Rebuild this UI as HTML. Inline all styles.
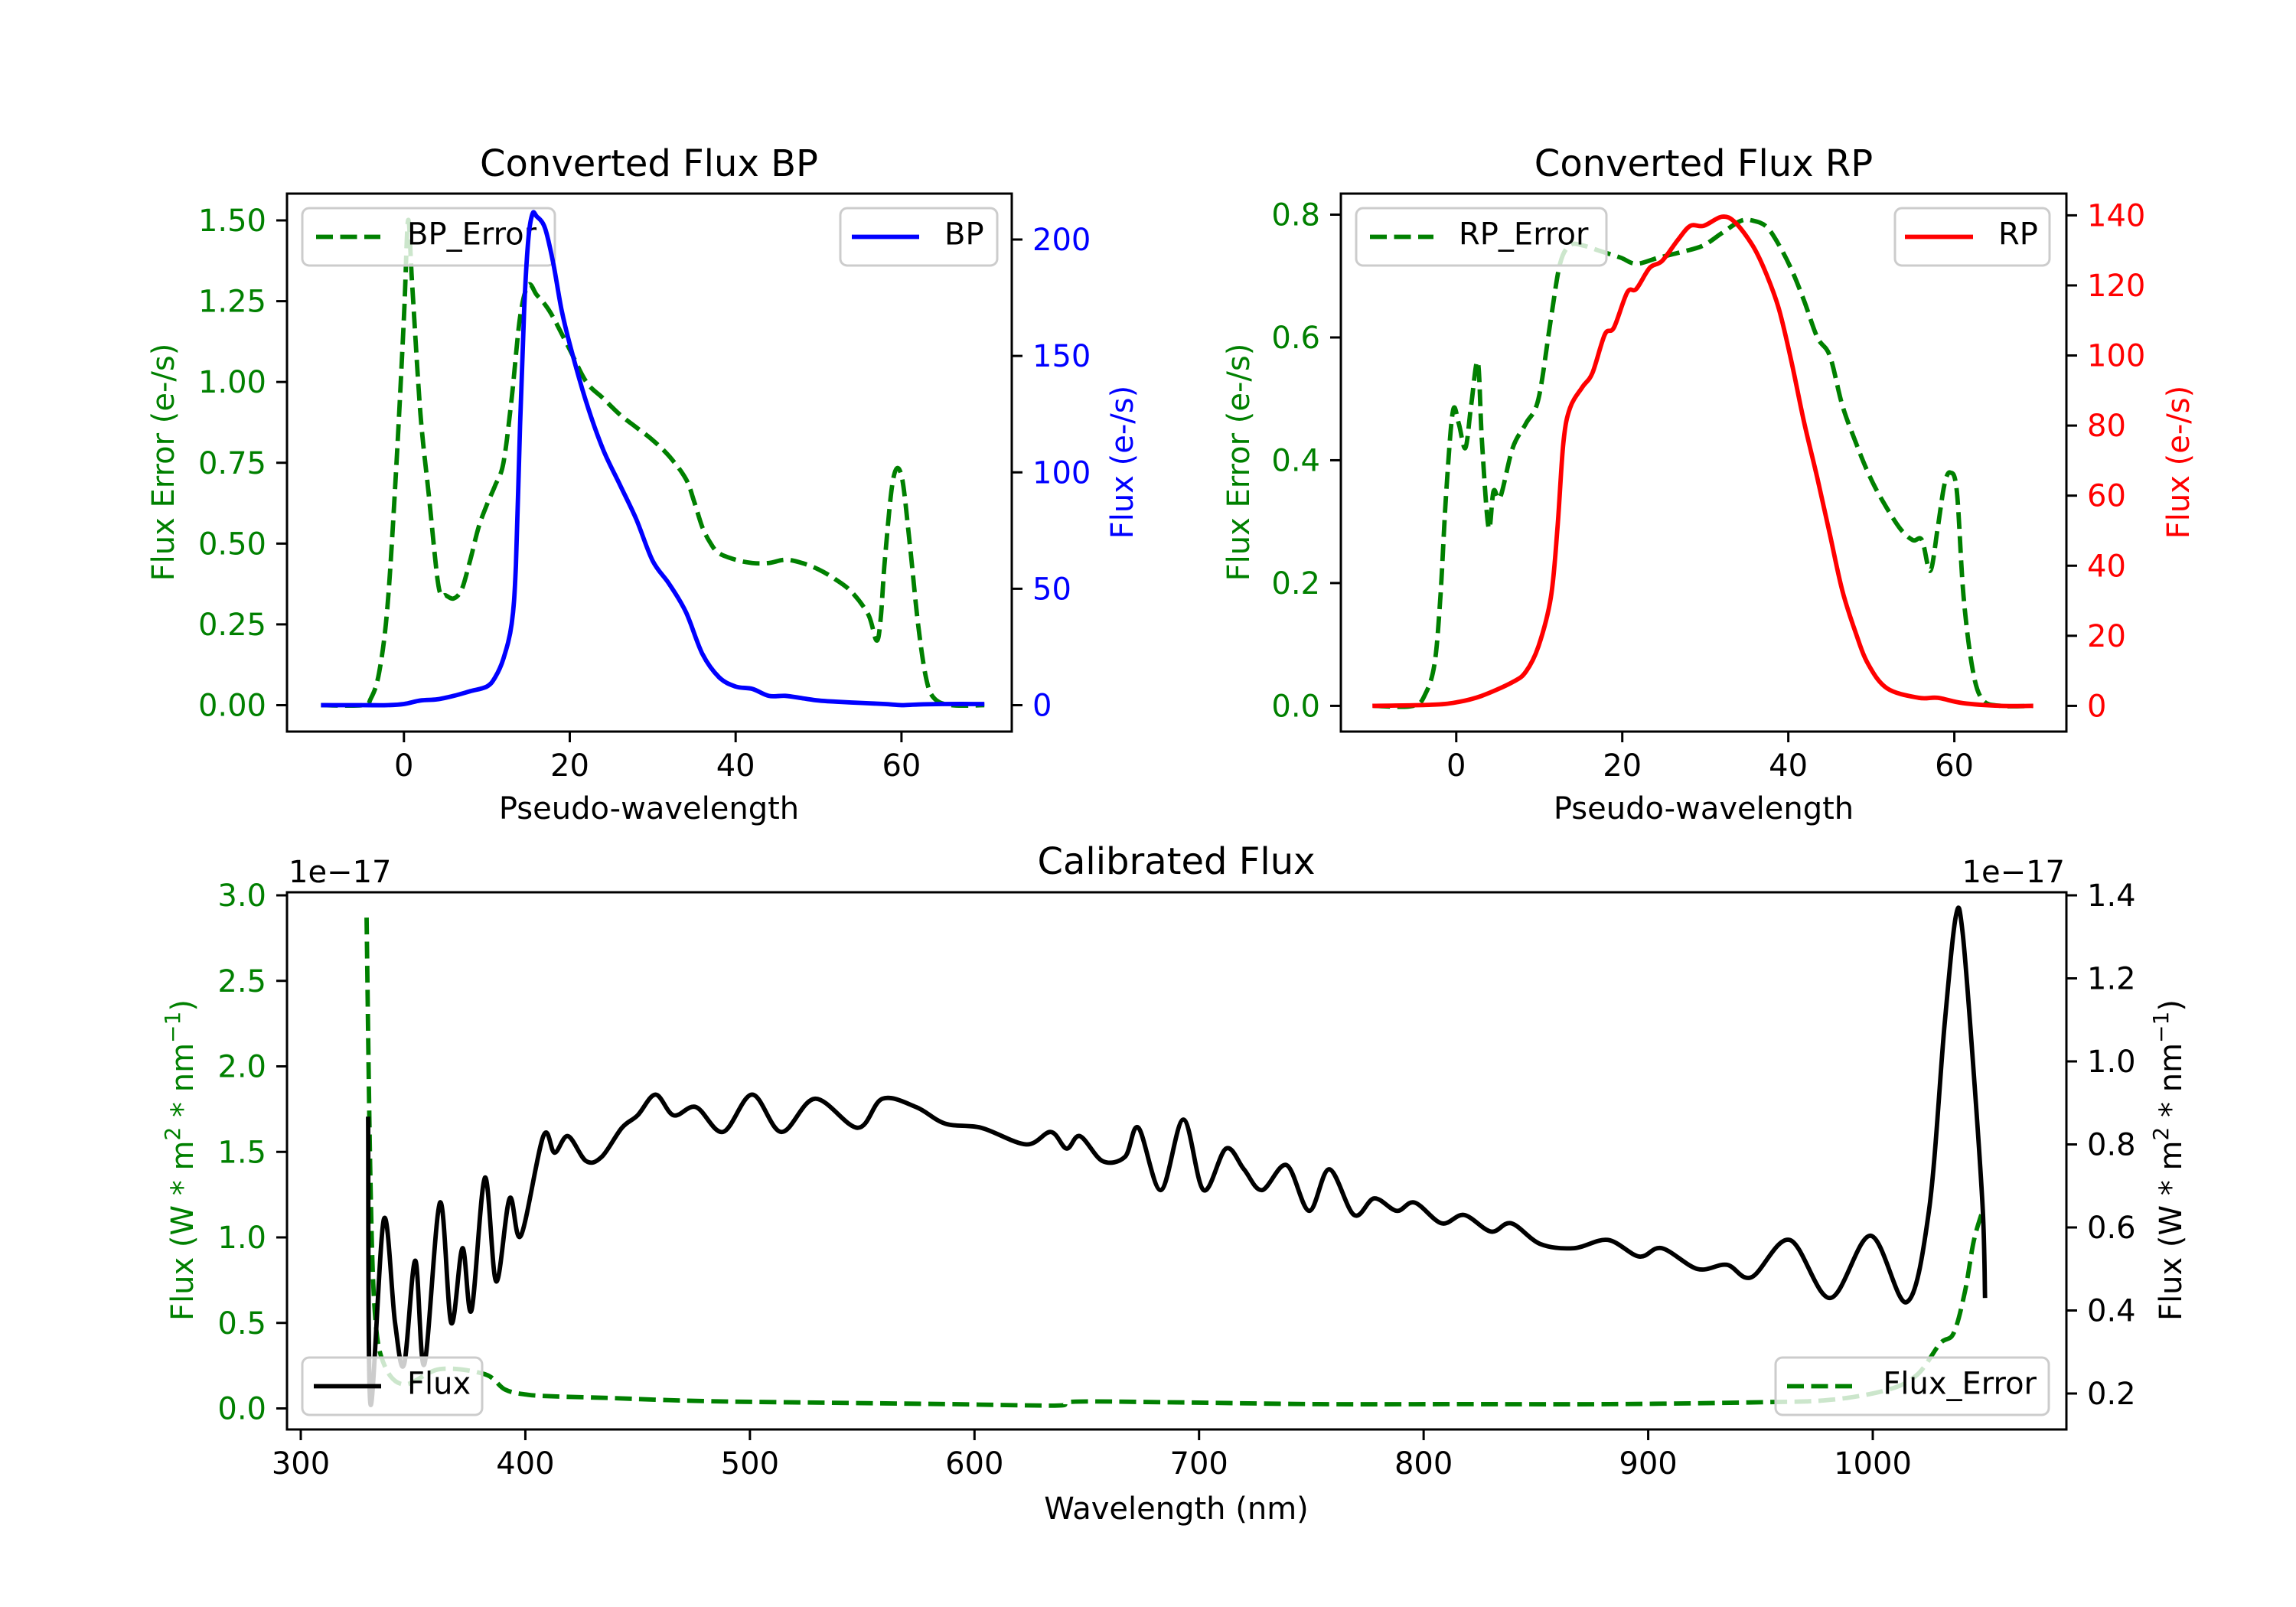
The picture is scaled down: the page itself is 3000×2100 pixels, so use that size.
<!DOCTYPE html>
<html><head><meta charset="utf-8">
<style>
html,body{margin:0;padding:0;background:#fff;}
svg{display:block;font-family:"DejaVu Sans","Liberation Sans",sans-serif;}
</style></head>
<body>
<svg id="fig" width="3000" height="2100" viewBox="0 0 3000 2100" xmlns="http://www.w3.org/2000/svg">
<rect x="0" y="0" width="3000" height="2100" fill="#fff"/>
</svg>
<script>
// ---------- data ----------
const bpX = [-10,-5,-2,0,2,4,6,8,10,11,12,13,13.5,14,14.5,15,15.5,16,17,18,19,20,22,24,26,28,30,32,34,36,38,40,42,44,46,48,50,52,55,58,60,62,65,70];
const bpFlux = [0,0,0,0.5,2,2.5,4,6,8,12,20,35,60,120,170,200,211,210,205,190,170,155,130,110,95,80,62,52,40,22,12,8,7,4,4,3,2,1.5,1,0.5,0,0.3,0.5,0.5];
const bpErrX = [-10,-5,-4,-3,-2,-1,0,0.5,1,2,3,4,4.5,5,6,7,8,9,10,11,12,13,14,15,16,17,18,20,22,24,26,28,30,32,34,35,36,37,38,40,42,44,46,48,50,52,54,56,57,57.5,58,59,60,61,62,63,64,66,70];
const bpErr = [0,0,0.02,0.1,0.3,0.7,1.2,1.5,1.3,0.9,0.65,0.4,0.34,0.34,0.33,0.36,0.45,0.55,0.62,0.68,0.75,0.95,1.2,1.3,1.27,1.24,1.2,1.1,1.0,0.95,0.9,0.86,0.82,0.77,0.7,0.63,0.55,0.5,0.47,0.45,0.44,0.44,0.45,0.44,0.42,0.39,0.35,0.28,0.2,0.27,0.45,0.7,0.71,0.5,0.25,0.08,0.02,0,0];
const rpX = [-10.1,-3.1,0,3,6.8,8.4,9.9,11.4,12.2,12.9,13.7,15.2,16.4,17.9,19,20.6,21.7,23.3,24.8,26.7,28.2,29.8,32,33.6,35.8,37.4,38.9,40.4,41.9,43.5,45,46.5,48.1,49.6,51.9,55.7,58,61,65.6,69.5];
const rpFlux = [0,0.3,1,2.8,6.8,9.8,17,31,51,75,85,91,95,106,108,118,119,125,127,133,137,137,139.6,138,131,123,113,98,81,65,49,33,21,12,5,2.3,2.3,0.8,0,0];
const rpErrX = [-10,-5.2,-3.7,-2.6,-1.9,-1.2,-0.4,0.3,1.1,1.8,2.6,3.1,3.9,4.5,5.3,6.8,8.4,9.9,11.4,12.5,13.7,15.2,17.5,19.8,21.7,24.4,27.4,29.8,32,34.3,35.8,37.4,38.9,40.4,41.9,43.5,45,46.5,48.1,49.6,51.1,53.4,55,56.1,57.1,58,58.8,59.5,60.3,61.1,62.2,63.4,65.6,69.5];
const rpErr = [0,0,0.02,0.07,0.18,0.35,0.48,0.46,0.42,0.49,0.56,0.43,0.29,0.35,0.34,0.42,0.46,0.5,0.63,0.72,0.75,0.75,0.74,0.73,0.72,0.73,0.74,0.75,0.77,0.79,0.79,0.78,0.75,0.71,0.66,0.6,0.57,0.49,0.43,0.38,0.34,0.29,0.27,0.27,0.22,0.29,0.36,0.38,0.35,0.18,0.06,0.01,0,0];
const calX = [330,331,337,342,346,351,355,362,367,372,376,382,387,393,398,408,413,419,427,434,443,450,458,466,476,488,501,514,529,548,559,574,587,603,623,634,641,647,657,667,673,683,693,702,712,720,728,739,749,758,769,778,788,796,808,818,830,839,852,867,882,896,906,922,935,946,963,981,999,1015,1025,1032,1037,1040,1045,1049,1050];
const calFlux = [0.867,0.175,0.62,0.37,0.27,0.52,0.27,0.66,0.37,0.55,0.4,0.72,0.47,0.67,0.58,0.82,0.78,0.82,0.76,0.77,0.84,0.87,0.92,0.87,0.89,0.83,0.92,0.83,0.91,0.84,0.91,0.89,0.85,0.84,0.8,0.83,0.79,0.82,0.76,0.77,0.84,0.69,0.86,0.69,0.79,0.74,0.69,0.75,0.64,0.74,0.63,0.67,0.64,0.66,0.61,0.63,0.59,0.61,0.56,0.55,0.57,0.53,0.55,0.5,0.51,0.48,0.57,0.43,0.58,0.42,0.64,1.09,1.35,1.31,0.97,0.64,0.43];
const errX = [329.3,331,333,337,346,362,382,391,401,414,440,460,492,557,590,623,639,645,687,753,818,883,949,981,1007,1020,1030,1036,1041,1045,1049];
const calErr = [2.87,1.34,0.56,0.26,0.14,0.23,0.2,0.11,0.08,0.07,0.06,0.05,0.04,0.03,0.025,0.018,0.018,0.04,0.036,0.025,0.025,0.025,0.036,0.05,0.11,0.2,0.38,0.44,0.68,0.98,1.16];
const bpLeftTicks = [0,0.25,0.5,0.75,1.0,1.25,1.5];
const bpRightTicks = [0,50,100,150,200];
const rpLeftTicks = [0,0.2,0.4,0.6,0.8];
const rpRightTicks = [0,20,40,60,80,100,120,140];
const pwTicks = [0,20,40,60];
const wlTicks = [300,400,500,600,700,800,900,1000];
const calLeftTicks = [0,0.5,1.0,1.5,2.0,2.5,3.0];
const calRightTicks = [0.2,0.4,0.6,0.8,1.0,1.2,1.4];

// ---------- helpers ----------
const NS = "http://www.w3.org/2000/svg";
const svg = document.getElementById('fig');
function el(tag, attrs, parent){
  const e = document.createElementNS(NS, tag);
  for (const k in attrs) e.setAttribute(k, attrs[k]);
  (parent||svg).appendChild(e);
  return e;
}
function scale(d0,d1,p0,p1){ return v => p0 + (v-d0)*(p1-p0)/(d1-d0); }
function pathFrom(xs, ys, sx, sy){
  const p = xs.map((x,i)=>[sx(x), sy(ys[i])]);
  let d = "M"+p[0][0].toFixed(1)+","+p[0][1].toFixed(1);
  for (let i=0;i<p.length-1;i++){
    const p0=p[Math.max(0,i-1)], p1=p[i], p2=p[i+1], p3=p[Math.min(p.length-1,i+2)];
    const t=1/6;
    const c1x=p1[0]+(p2[0]-p0[0])*t, c1y=p1[1]+(p2[1]-p0[1])*t;
    const c2x=p2[0]-(p3[0]-p1[0])*t, c2y=p2[1]-(p3[1]-p1[1])*t;
    d += " C"+c1x.toFixed(1)+","+c1y.toFixed(1)+" "+c2x.toFixed(1)+","+c2y.toFixed(1)+" "+p2[0].toFixed(1)+","+p2[1].toFixed(1);
  }
  return d;
}
let clipId = 0;
function clipFor(box){
  const id = "clip"+(clipId++);
  const cp = el('clipPath',{id:id});
  el('rect',{x:box.x0,y:box.y0,width:box.x1-box.x0,height:box.y1-box.y0},cp);
  return "url(#"+id+")";
}
function series(xs, ys, sx, sy, color, dashed, clip, name){
  const p = el('path',{d:pathFrom(xs,ys,sx,sy),fill:'none',stroke:color,'stroke-width':5.8,
    'stroke-linejoin':'round','clip-path':clip});
  if (dashed) p.setAttribute('stroke-dasharray','22 9.5');
  
  
}
function text(x,y,str,opts){
  const t = el('text',Object.assign({x:x,y:y,'font-size':40,fill:'#000'},opts||{}));
  t.textContent = str;
  return t;
}
function legend(b, lx0, lx1, tx, label, color, dashed, anchor, name){
  const g = el('g',{});
  
  
  el('rect',{x:b[0],y:b[1],width:b[2]-b[0],height:b[3]-b[1],rx:9,ry:9,fill:'#fff','fill-opacity':0.8,stroke:'#cccccc','stroke-width':3},g);
  const cy=(b[1]+b[3])/2;
  const l = el('line',{x1:lx0,y1:cy,x2:lx1,y2:cy,stroke:color,'stroke-width':5.8},g);
  if (dashed) l.setAttribute('stroke-dasharray','22 9.5');
  const t = text(tx, cy+10, label, {'text-anchor':anchor||'start'});
  g.appendChild(t);
}
function frame(b, name){
  const r = el('rect',{x:b.x0,y:b.y0,width:b.x1-b.x0,height:b.y1-b.y0,fill:'none',stroke:'#000','stroke-width':3});
  
  
}
function xTicks(b, ticks, sx, fmt){
  ticks.forEach(v=>{
    const x=sx(v);
    el('line',{x1:x,y1:b.y1,x2:x,y2:b.y1+14,stroke:'#000','stroke-width':3});
    const t=text(x,b.y1+58,fmt(v),{'text-anchor':'middle'});
    
    
  });
}
function yTicks(b, ticks, sy, fmt, side, color){
  ticks.forEach(v=>{
    const y=sy(v);
    if (side==='left'){
      el('line',{x1:b.x0-14,y1:y,x2:b.x0,y2:y,stroke:'#000','stroke-width':3});
      const t=text(b.x0-27,y+14,fmt(v),{'text-anchor':'end',fill:color});
      
      
    } else {
      el('line',{x1:b.x1,y1:y,x2:b.x1+14,y2:y,stroke:'#000','stroke-width':3});
      const t=text(b.x1+27,y+14,fmt(v),{'text-anchor':'start',fill:color});
      
      
    }
  });
}
function yLabel(x, y, str, color, name){
  const t=text(0,0,str,{'text-anchor':'middle','dominant-baseline':'central',fill:color,transform:'translate('+x+','+y+') rotate(-90)'});
  
  
  return t;
}
const GREEN='#008000';

// ---------- BP panel ----------
const bpBox={x0:375,x1:1322,y0:253,y1:956};
const bpSx=scale(-14.1,73.3,bpBox.x0,bpBox.x1);
const bpSyL=scale(0,1.5,921.5,288);
const bpSyR=scale(0,200,921.5,313);
const bpClip=clipFor(bpBox);
series(bpErrX,bpErr,bpSx,bpSyL,GREEN,true,bpClip,'bp-error-line');
legend([395,272,725,347],413,497,532,'BP_Error',GREEN,true,'start','bp-error-legend');
series(bpX,bpFlux,bpSx,bpSyR,'#0000ff',false,bpClip,'bp-flux-line');
legend([1098,272,1303,347],1113,1201,1234,'BP','#0000ff',false,'start','bp-legend');
frame(bpBox,'bp-axes-frame');
xTicks(bpBox,pwTicks,bpSx,v=>String(v));
yTicks(bpBox,bpLeftTicks,bpSyL,v=>v.toFixed(2),'left',GREEN);
yTicks(bpBox,bpRightTicks,bpSyR,v=>String(v),'right','#0000ff');
let t=text(848,230,'Converted Flux BP',{'text-anchor':'middle','font-size':48});
 
t=text(848,1070,'Pseudo-wavelength',{'text-anchor':'middle'});
 
yLabel(214,604,'Flux Error (e-/s)',GREEN,'bp-left-axis-title');
yLabel(1467,604,'Flux (e-/s)','#0000ff','bp-right-axis-title');

// ---------- RP panel ----------
const rpBox={x0:1752,x1:2700,y0:253,y1:956};
const rpSx=scale(-13.9,73.5,rpBox.x0,rpBox.x1);
const rpSyL=scale(0,0.8,922.4,280.5);
const rpSyR=scale(0,140,922.4,281.4);
const rpClip=clipFor(rpBox);
series(rpErrX,rpErr,rpSx,rpSyL,GREEN,true,rpClip,'rp-error-line');
legend([1772,272,2099,347],1790,1873,1906,'RP_Error',GREEN,true,'start','rp-error-legend');
series(rpX,rpFlux,rpSx,rpSyR,'#ff0000',false,rpClip,'rp-flux-line');
legend([2476,272,2678,347],2489,2578,2611,'RP','#ff0000',false,'start','rp-legend');
frame(rpBox,'rp-axes-frame');
xTicks(rpBox,pwTicks,rpSx,v=>String(v));
yTicks(rpBox,rpLeftTicks,rpSyL,v=>v.toFixed(1),'left',GREEN);
yTicks(rpBox,rpRightTicks,rpSyR,v=>String(v),'right','#ff0000');
t=text(2226,230,'Converted Flux RP',{'text-anchor':'middle','font-size':48});
 
t=text(2226,1070,'Pseudo-wavelength',{'text-anchor':'middle'});
 
yLabel(1619,604,'Flux Error (e-/s)',GREEN,'rp-left-axis-title');
yLabel(2847,604,'Flux (e-/s)','#ff0000','rp-right-axis-title');

// ---------- Calibrated panel ----------
const cBox={x0:375,x1:2700,y0:1166,y1:1868};
const cSx=scale(300,1000,393,2447);
const cSyL=scale(0,3,1840.5,1170);
const cSyR=scale(0.2,1.4,1821,1170);
const cClip=clipFor(cBox);
series(errX,calErr,cSx,cSyL,GREEN,true,cClip,'flux-error-line');
legend([2320,1774,2677,1849],2335,2423,2661,'Flux_Error',GREEN,true,'end','flux-error-legend');
series(calX,calFlux,cSx,cSyR,'#000000',false,cClip,'flux-line');
legend([395,1774,630,1849],410,498,532,'Flux','#000',false,'start','flux-legend');
frame(cBox,'calibrated-axes-frame');
xTicks(cBox,wlTicks,cSx,v=>String(v));
yTicks(cBox,calLeftTicks,cSyL,v=>v.toFixed(1),'left',GREEN);
yTicks(cBox,calRightTicks,cSyR,v=>v.toFixed(1),'right','#000');
t=text(1537,1142,'Calibrated Flux',{'text-anchor':'middle','font-size':48});
 
t=text(1537,1985,'Wavelength (nm)',{'text-anchor':'middle'});
 
t=text(377,1153,'1e\u221217',{'text-anchor':'start'});
 
t=text(2698,1153,'1e\u221217',{'text-anchor':'end'});
 

function unitLabel(x,y,color,name){
  const g=yLabel(x,y,'',color,name);
  const parts=[['Flux (W * m',null],['2','sup'],[' * nm',null],['\u22121','sup'],[')',null]];
  parts.forEach(p=>{
    const s=document.createElementNS(NS,'tspan');
    s.textContent=p[0];
    if(p[1]){ s.setAttribute('font-size','28'); s.setAttribute('dy','-14'); }
    else if(g.childNodes.length){ s.setAttribute('dy','14'); }
    g.appendChild(s);
  });
}
unitLabel(239,1516,GREEN,'calibrated-left-axis-title');
unitLabel(2837,1516,'#000','calibrated-right-axis-title');
</script>
</body></html>
